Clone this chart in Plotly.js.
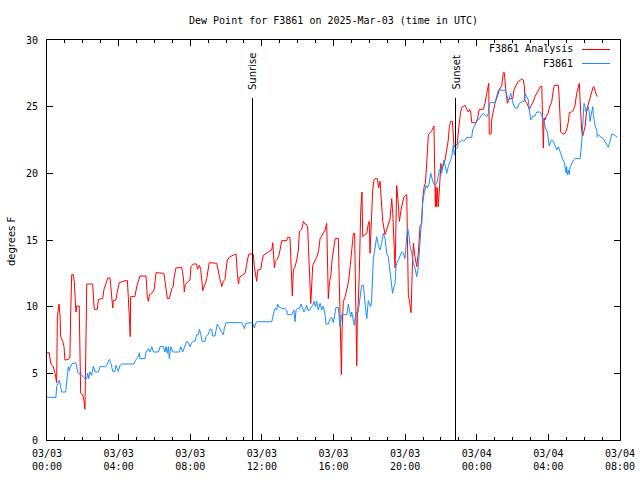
<!DOCTYPE html>
<html>
<head>
<meta charset="utf-8">
<script src="https://cdn.plot.ly/plotly-3.0.1.min.js"></script>
<style>html,body{margin:0;padding:0;background:#fff;}#chart{width:640px;height:480px;}</style>
</head>
<body>
<div id="chart"></div>
<script>
// Hours since 2025-03-03 00:00 UTC
var analysisHours = [0.00,0.13,0.16,0.22,0.35,0.45,0.54,0.58,0.67,0.73,0.76,0.88,0.95,1.00,1.20,1.28,1.32,1.38,1.47,1.53,1.58,1.62,1.66,1.80,1.84,1.88,1.99,2.07,2.12,2.18,2.22,2.55,2.59,2.64,2.81,2.87,3.11,3.18,3.30,3.39,3.52,3.56,3.61,3.67,3.70,3.85,3.93,4.04,4.36,4.49,4.54,4.60,4.65,4.67,4.91,5.01,5.10,5.19,5.53,5.60,5.66,5.72,5.85,5.98,6.03,6.09,6.53,6.60,6.66,6.72,6.83,6.91,6.98,7.05,7.09,7.20,7.52,7.58,7.63,7.67,7.72,7.89,7.99,8.04,8.17,8.36,8.40,8.51,8.58,8.66,8.70,8.78,8.85,8.92,9.01,9.06,9.48,9.54,9.65,9.72,9.76,9.85,9.94,10.00,10.07,10.22,10.41,10.56,10.63,10.69,10.74,10.87,11.06,11.15,11.19,11.28,11.52,11.58,11.66,11.71,11.77,11.94,12.00,12.08,12.36,12.55,12.61,12.64,12.70,12.75,12.86,12.97,13.05,13.11,13.39,13.44,13.57,13.61,13.67,13.70,13.76,13.85,13.95,14.04,14.09,14.22,14.32,14.40,14.50,14.56,14.60,14.65,14.70,14.73,14.79,14.84,15.06,15.17,15.25,15.40,15.53,15.62,15.66,15.69,15.71,15.78,15.85,15.92,15.99,16.09,16.27,16.31,16.35,16.40,16.44,16.48,16.52,16.55,16.64,16.74,16.83,16.93,17.02,17.11,17.18,17.22,17.26,17.30,17.33,17.38,17.44,17.48,17.52,17.59,17.63,17.75,17.86,17.94,18.00,18.04,18.08,18.14,18.19,18.26,18.32,18.45,18.52,18.60,18.69,18.75,18.88,18.99,19.16,19.25,19.31,19.38,19.44,19.49,19.53,19.60,19.68,19.79,19.94,20.09,20.13,20.18,20.26,20.33,20.40,20.46,20.55,20.65,20.74,20.83,20.93,20.98,21.06,21.13,21.17,21.24,21.30,21.49,21.61,21.65,21.69,21.72,21.76,21.80,21.85,21.90,21.95,22.00,22.04,22.13,22.23,22.32,22.41,22.47,22.55,22.64,22.69,22.73,22.84,22.92,22.97,23.02,23.09,23.16,23.35,23.44,23.53,23.60,23.66,23.72,23.96,24.04,24.09,24.14,24.37,24.46,24.56,24.62,24.67,24.70,24.80,24.84,24.93,25.02,25.08,25.15,25.20,25.30,25.39,25.48,25.54,25.58,25.63,25.71,25.76,25.82,26.01,26.08,26.19,26.32,26.42,26.51,26.60,26.66,26.70,26.79,26.88,26.94,27.01,27.13,27.25,27.44,27.55,27.63,27.66,27.69,27.72,27.76,27.81,27.87,27.98,28.05,28.19,28.25,28.32,28.37,28.56,28.61,28.65,28.69,28.80,28.93,29.02,29.12,29.17,29.30,29.40,29.49,29.58,29.67,29.73,29.77,29.81,29.86,29.92,29.98,30.05,30.14,30.23,30.33,30.42,30.51,30.57,30.62,30.66,30.73];
var analysisDewF = [6.55,6.55,6.15,5.7,5.5,5.0,4.3,9.25,10.2,9.3,7.75,7.4,7.0,6.0,6.05,6.25,9.3,12.4,12.4,11.8,10.4,9.6,10.05,10.05,6.75,3.5,3.4,2.9,2.3,7.0,11.7,11.7,10.4,9.8,9.8,10.55,10.6,11.3,11.75,12.15,12.15,11.5,10.5,9.9,10.45,10.5,11.15,11.8,11.95,11.95,10.75,8.9,7.75,10.75,10.75,11.5,11.9,12.3,12.3,10.75,10.4,10.9,11.0,11.25,11.85,12.55,12.5,11.9,11.1,10.6,10.6,11.1,11.4,11.5,12.15,12.9,12.95,12.5,12.0,11.1,11.65,11.9,12.0,13.0,13.2,13.2,12.8,13.1,12.8,11.8,11.2,11.55,11.75,12.1,12.8,13.3,13.25,12.75,12.1,11.75,11.5,11.9,12.05,12.75,13.5,13.75,13.85,13.95,12.5,11.7,12.2,12.3,12.5,13.1,13.5,13.95,13.95,13.0,12.25,11.9,12.75,12.8,13.35,13.85,14.1,14.25,14.8,14.25,12.9,13.4,13.55,13.95,14.5,14.95,14.95,15.2,15.2,14.1,12.0,10.8,12.75,13.0,13.5,14.25,15.6,15.8,16.4,16.2,16.15,15.9,14.5,13.25,11.75,10.25,11.75,13.1,13.7,14.2,15.1,15.4,15.75,16.25,14.5,12.15,10.6,11.9,12.3,13.5,14.2,15.1,15.1,12.9,9.9,6.5,4.9,8.3,9.5,10.4,10.7,11.2,11.8,13.0,14.5,15.5,15.5,11.2,6.5,5.57,9.2,10.2,12.5,15.5,17.2,18.6,15.25,15.4,15.5,16.2,16.4,14.0,15.5,18.0,18.75,19.5,19.6,19.6,18.9,19.4,17.8,16.4,15.4,15.9,16.6,18.1,17.0,14.75,12.9,16.25,19.1,18.0,16.4,17.4,18.25,18.4,15.25,10.9,10.25,9.55,12.75,14.75,13.75,13.0,14.1,16.0,16.25,18.0,19.0,19.25,20.0,22.25,22.9,23.2,23.55,20.3,17.5,19.0,17.5,18.9,17.5,18.5,20.25,20.75,20.25,20.6,21.0,21.75,22.5,23.5,23.9,23.9,22.75,22.0,22.1,22.25,23.1,23.75,24.5,24.95,25.1,24.8,24.6,24.8,24.6,23.8,23.8,24.1,24.5,24.8,24.8,25.25,26.0,26.4,26.75,22.95,22.95,24.1,24.75,25.25,25.5,25.75,26.0,26.4,26.5,27.55,27.55,26.5,26.1,25.25,25.5,25.6,25.6,26.25,26.6,26.9,26.95,27.1,27.0,26.5,25.4,25.3,25.0,24.8,25.0,25.3,25.75,26.25,26.5,26.55,24.75,23.5,21.9,24.15,24.0,24.25,24.5,24.9,25.4,26.0,26.55,26.6,26.6,25.5,24.0,23.1,22.95,23.0,23.25,23.9,24.55,24.6,24.75,25.1,26.0,26.6,26.75,25.5,23.75,23.2,22.8,23.1,23.5,24.75,25.25,25.6,26.1,26.5,26.45,26.1,26.0,25.75];

var stationHours = [0.00,0.50,0.54,0.63,0.69,0.76,0.82,1.04,1.10,1.16,1.19,1.25,1.28,1.38,1.56,1.62,1.66,1.71,1.80,1.94,2.03,2.12,2.22,2.27,2.33,2.40,2.49,2.59,2.68,2.87,2.96,3.24,3.33,3.42,3.48,3.56,3.67,3.80,3.85,3.93,3.98,4.08,4.17,4.86,4.91,5.01,5.10,5.16,5.19,5.47,5.53,5.66,5.75,5.85,5.94,6.22,6.31,6.50,6.59,6.65,6.72,6.78,6.83,6.91,7.05,7.39,7.47,7.58,7.71,7.80,7.89,7.99,8.08,8.17,8.27,8.36,8.45,8.51,8.58,8.66,8.82,8.88,9.01,9.10,9.20,9.25,9.38,9.44,9.51,9.59,9.66,9.76,9.85,9.90,10.00,10.87,10.96,11.02,11.11,11.43,11.52,11.58,11.67,11.75,12.55,12.64,12.70,12.75,12.83,12.88,12.97,13.11,13.29,13.39,13.42,13.67,13.72,13.79,13.85,13.91,13.98,14.09,14.19,14.28,14.35,14.45,14.50,14.59,14.68,14.78,14.84,14.91,14.99,15.06,15.15,15.25,15.34,15.43,15.53,15.58,15.71,15.81,15.90,15.99,16.09,16.14,16.27,16.31,16.36,16.46,16.74,16.83,16.88,16.96,17.02,17.11,17.16,17.26,17.33,17.39,17.48,17.57,17.67,17.71,17.78,17.86,17.89,17.94,18.04,18.08,18.13,18.17,18.22,18.32,18.41,18.50,18.60,18.69,18.78,18.88,18.97,19.06,19.16,19.21,19.25,19.30,19.38,19.44,19.49,19.53,19.62,19.72,19.81,19.90,19.99,20.09,20.14,20.23,20.27,20.37,20.46,20.55,20.60,20.65,20.74,20.79,20.85,20.89,20.98,21.06,21.17,21.24,21.35,21.43,21.49,21.58,21.67,21.76,21.85,21.91,21.99,22.04,22.13,22.17,22.25,22.32,22.41,22.51,22.60,22.69,22.75,22.80,22.92,22.97,23.07,23.16,23.25,23.35,23.44,23.72,23.77,23.85,23.91,24.00,24.09,24.18,24.28,24.37,24.46,24.56,24.65,24.70,24.78,25.02,25.08,25.15,25.21,25.26,25.39,25.48,25.58,25.63,25.71,25.76,25.82,25.90,25.95,26.04,26.14,26.27,26.38,26.42,26.56,26.64,26.70,26.79,26.88,26.94,27.01,27.07,27.13,27.25,27.35,27.53,27.63,27.68,27.76,27.81,27.87,27.94,28.00,28.05,28.13,28.19,28.28,28.37,28.47,28.56,28.65,28.74,28.80,28.87,28.93,28.99,29.02,29.06,29.12,29.17,29.21,29.30,29.40,29.49,29.77,29.86,29.92,29.99,30.05,30.10,30.18,30.23,30.29,30.33,30.37,30.42,30.48,30.51,30.57,30.62,30.70,30.73,30.79,30.89,31.07,31.16,31.26,31.35,31.44,31.54,31.67,31.78,31.85];
var stationDewF = [3.2,3.2,4.0,4.4,4.5,4.0,3.6,3.6,4.25,5.1,5.5,5.2,5.4,5.7,5.8,5.75,5.4,5.1,4.95,4.9,4.7,4.6,4.6,5.0,4.6,5.1,4.85,5.55,5.1,5.1,5.5,5.5,5.6,5.85,6.05,5.8,5.15,5.15,5.6,5.35,5.15,5.6,5.7,5.7,5.9,6.1,6.25,6.55,6.1,6.1,6.6,6.85,6.6,7.0,6.6,6.6,7.0,7.0,6.6,7.0,6.5,7.0,6.1,7.0,6.6,6.6,7.0,6.6,7.1,7.4,7.3,7.0,7.3,7.4,7.4,7.9,7.9,8.3,8.0,7.4,7.4,7.75,7.95,8.3,8.3,7.8,7.8,8.25,8.7,8.5,8.25,8.05,7.9,8.35,8.8,8.8,8.6,8.35,8.75,8.8,8.7,8.4,8.8,8.87,8.87,9.5,9.75,9.87,9.75,10.2,9.95,9.87,9.87,9.7,9.4,9.4,9.6,9.75,8.87,9.75,9.87,9.87,10.2,9.87,9.6,9.87,10.1,9.7,9.75,10.0,10.1,10.4,10.0,10.4,9.75,10.25,9.75,10.05,9.4,8.7,8.7,9.1,9.2,8.8,9.5,9.95,9.95,9.25,8.5,9.4,9.4,10.2,9.75,9.25,9.6,9.1,8.6,9.6,9.5,9.7,10.5,11.6,11.6,10.75,10.0,9.1,9.75,10.45,10.1,10.0,10.5,11.75,13.5,14.4,15.25,14.6,14.25,14.75,15.5,15.1,14.0,13.75,12.75,12.25,11.5,11.0,11.5,11.75,13.0,13.25,13.5,13.9,14.1,14.0,13.6,15.25,15.9,15.25,14.6,14.0,13.25,12.9,12.5,12.25,13.0,14.0,14.5,16.0,17.75,18.5,19.1,18.9,19.25,20.0,19.75,19.25,19.1,19.25,19.75,20.25,20.4,20.0,20.75,21.0,20.5,20.0,20.5,21.0,21.25,22.1,21.4,21.75,21.9,22.25,22.4,22.5,22.4,22.5,22.7,22.7,23.25,23.5,23.6,23.9,24.0,24.25,24.4,24.5,24.4,24.25,24.5,25.25,25.3,25.3,25.6,26.0,26.25,26.3,26.25,26.2,26.25,26.1,25.75,25.4,25.75,26.0,25.7,25.2,24.9,24.9,25.25,25.3,25.4,25.4,26.0,25.75,25.5,24.75,24.0,24.1,24.3,24.3,24.6,24.6,24.4,24.0,24.0,23.5,23.25,23.1,22.5,22.05,22.4,22.5,22.4,22.05,21.75,22.0,21.6,21.25,21.05,20.9,20.4,20.05,20.5,19.9,20.25,19.9,20.45,20.75,21.0,21.1,21.1,22.25,24.0,25.25,25.0,24.6,24.75,25.0,24.5,23.9,24.25,24.75,25.0,24.4,23.9,23.5,23.25,22.75,22.9,22.75,22.6,22.4,22.1,21.95,22.4,22.95,22.9,22.75,22.7];

var tickHours = [0,4,8,12,16,20,24,28,32];
var tickLabels = ['03/03<br>00:00','03/03<br>04:00','03/03<br>08:00','03/03<br>12:00','03/03<br>16:00','03/03<br>20:00','03/04<br>00:00','03/04<br>04:00','03/04<br>08:00'];
var sunriseHour = 11.476;
var sunsetHour = 22.813;
var markerTopF = 25.65;
var seriesNames = ['F3861 Analysis', 'F3861'];
var seriesColors = ['#ff0000', '#1a8cff'];

var mono = 'DejaVu Sans Mono, monospace';
var sans = 'DejaVu Sans, sans-serif';

var traces = [
  {x: analysisHours, y: analysisDewF, type: 'scatter', mode: 'lines', name: seriesNames[0],
   line: {color: seriesColors[0], width: 1}},
  {x: stationHours, y: stationDewF, type: 'scatter', mode: 'lines', name: seriesNames[1],
   line: {color: seriesColors[1], width: 1}}
];

var layout = {
  width: 640, height: 480,
  margin: {l: 47, r: 20, t: 40, b: 40, pad: 0},
  paper_bgcolor: '#ffffff', plot_bgcolor: '#ffffff',
  showlegend: false,
  title: {text: 'Dew Point for F3861 on 2025-Mar-03 (time in UTC)',
          font: {family: mono, size: 10, color: '#000'},
          x: 0.5, xref: 'paper', xanchor: 'center',
          y: 1 - 20/480, yref: 'container', yanchor: 'middle'},
  xaxis: {
    range: [0, 32], tickmode: 'array', tickvals: tickHours, ticktext: tickLabels,
    ticks: 'inside', ticklen: 6, tickwidth: 1, tickcolor: '#000',
    showline: true, linecolor: '#000', linewidth: 1, mirror: 'allticks',
    showgrid: false, zeroline: false,
    ticklabelstandoff: 4,
    tickfont: {family: mono, size: 10, color: '#000'},
    minor: {tickmode: 'linear', tick0: 0, dtick: 1, ticks: 'inside', ticklen: 3, tickcolor: '#000', tickwidth: 1, showgrid: false}
  },
  yaxis: {
    range: [0, 30], tickmode: 'linear', tick0: 0, dtick: 5,
    ticks: 'inside', ticklen: 6, tickwidth: 1, tickcolor: '#000',
    showline: true, linecolor: '#000', linewidth: 1, mirror: 'allticks',
    showgrid: false, zeroline: false,
    ticklabelstandoff: 6,
    tickfont: {family: mono, size: 10, color: '#000'}
  },
  shapes: [
    {type: 'line', xref: 'x', yref: 'y', x0: sunriseHour, x1: sunriseHour, y0: 0, y1: markerTopF, line: {color: '#000', width: 1}},
    {type: 'line', xref: 'x', yref: 'y', x0: sunsetHour, x1: sunsetHour, y0: 0, y1: markerTopF, line: {color: '#000', width: 1}},
    {type: 'line', xref: 'paper', yref: 'paper', x0: (582-47)/573, x1: (610-47)/573, y0: (440-49.5)/400, y1: (440-49.5)/400, line: {color: seriesColors[0], width: 1}},
    {type: 'line', xref: 'paper', yref: 'paper', x0: (582-47)/573, x1: (610-47)/573, y0: (440-63.5)/400, y1: (440-63.5)/400, line: {color: seriesColors[1], width: 1}}
  ],
  annotations: [
    {text: 'Sunrise', xref: 'x', yref: 'paper', x: sunriseHour, y: (440-92)/400, textangle: -90, showarrow: false,
     xanchor: 'center', yanchor: 'bottom', font: {family: sans, size: 10, color: '#000'}},
    {text: 'Sunset', xref: 'x', yref: 'paper', x: sunsetHour, y: (440-92)/400, textangle: -90, showarrow: false,
     xanchor: 'center', yanchor: 'bottom', font: {family: sans, size: 10, color: '#000'}},
    {text: seriesNames[0], xref: 'paper', yref: 'paper', x: (575-47)/573, y: (440-49)/400, showarrow: false,
     xanchor: 'right', yanchor: 'middle', font: {family: mono, size: 10, color: '#000'}},
    {text: seriesNames[1], xref: 'paper', yref: 'paper', x: (575-47)/573, y: (440-63)/400, showarrow: false,
     xanchor: 'right', yanchor: 'middle', font: {family: mono, size: 10, color: '#000'}},
    {text: 'degrees F', xref: 'paper', yref: 'paper', x: (11-47)/573, y: (440-242)/400, textangle: -90, showarrow: false,
     xanchor: 'center', yanchor: 'middle', font: {family: sans, size: 10, color: '#000'}}
  ]
};

Plotly.newPlot('chart', traces, layout, {displayModeBar: false, staticPlot: true});
</script>
</body>
</html>
